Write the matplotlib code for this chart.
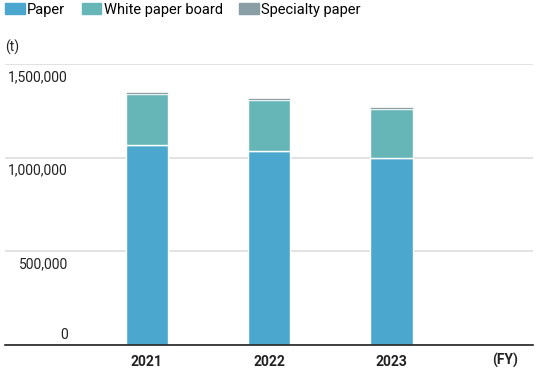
import matplotlib
matplotlib.use("Agg")
import matplotlib.pyplot as plt
import matplotlib.transforms as mtransforms
from matplotlib.patches import Patch

years = ["2021", "2022", "2023"]
paper = [1070000, 1033000, 996000]
white_board = [270000, 275000, 262000]
specialty = [11000, 11000, 13000]
yticks = [0, 500000, 1000000, 1500000]
ytick_labels = ["0", "500,000", "1,000,000", "1,500,000"]

c_paper = "#4ba7ce"
c_white = "#66b6b8"
c_spec = "#8a9ea6"

plt.rcParams['font.family'] = ['Roboto', 'DejaVu Sans']

fig = plt.figure(figsize=(5.37, 3.69), dpi=100)
W, H = 537, 369
ax = fig.add_axes([5 / W, (H - 345) / H, 528 / W, 281 / H])

x = list(range(len(years)))
bw = 0.344
ax.bar(x, paper, width=bw, color=c_paper, edgecolor="white", linewidth=1, zorder=3)
ax.bar(x, white_board, width=bw, bottom=paper, color=c_white, edgecolor="white", linewidth=1, zorder=3)
bot3 = [p + w for p, w in zip(paper, white_board)]
ax.bar(x, specialty, width=bw, bottom=bot3, color=c_spec, edgecolor="white", linewidth=0.5, zorder=3)

ax.set_xlim(-1.16, 3.157)
ax.set_ylim(0, 1500000)
for s in ["top", "right", "left"]:
    ax.spines[s].set_visible(False)
ax.spines["bottom"].set_color("#222222")
ax.spines["bottom"].set_linewidth(1.2)
ax.spines["bottom"].set_zorder(4)
ax.set_yticks(yticks)
ax.set_yticklabels([])
ax.tick_params(axis="y", length=0)
ax.yaxis.grid(True, color="#dddddd", linewidth=1.2, zorder=0)
ax.set_xticks(x)
ax.set_xticklabels(years, fontsize=10, fontweight="bold", color="#222222")
ax.tick_params(axis="x", length=0, pad=7)

trans = mtransforms.blended_transform_factory(ax.transAxes, ax.transData)
xl = (68 - 5) / 528
for v, lab in zip(yticks, ytick_labels):
    if v == 0:
        off = mtransforms.ScaledTranslation(0, 3 / 100, fig.dpi_scale_trans)
        ax.text(xl, v, lab, transform=trans + off, ha="right", va="bottom",
                fontsize=10, color="#222222")
    else:
        off = mtransforms.ScaledTranslation(0, -6 / 100, fig.dpi_scale_trans)
        ax.text(xl, v, lab, transform=trans + off, ha="right", va="top",
                fontsize=10, color="#222222")

fig.text(505 / W, 1 - 360 / H, "(FY)", ha="center", va="center", fontsize=10,
         fontweight="bold", color="#222222")
fig.text(5 / W, 1 - 47 / H, "(t)", ha="left", va="center", fontsize=10, color="#222222")

handles = [Patch(color=c_paper), Patch(color=c_white), Patch(color=c_spec)]
fig.legend(handles, ["Paper", "White paper board", "Specialty paper"],
           loc="upper left", bbox_to_anchor=(2 / W, 1.0), ncol=3, frameon=False,
           fontsize=10.5, handlelength=1.35, handleheight=0.8, handletextpad=0.15,
           columnspacing=1.15, borderaxespad=0.2, borderpad=0.0)

fig.savefig("out.png", dpi=100, facecolor="white")
